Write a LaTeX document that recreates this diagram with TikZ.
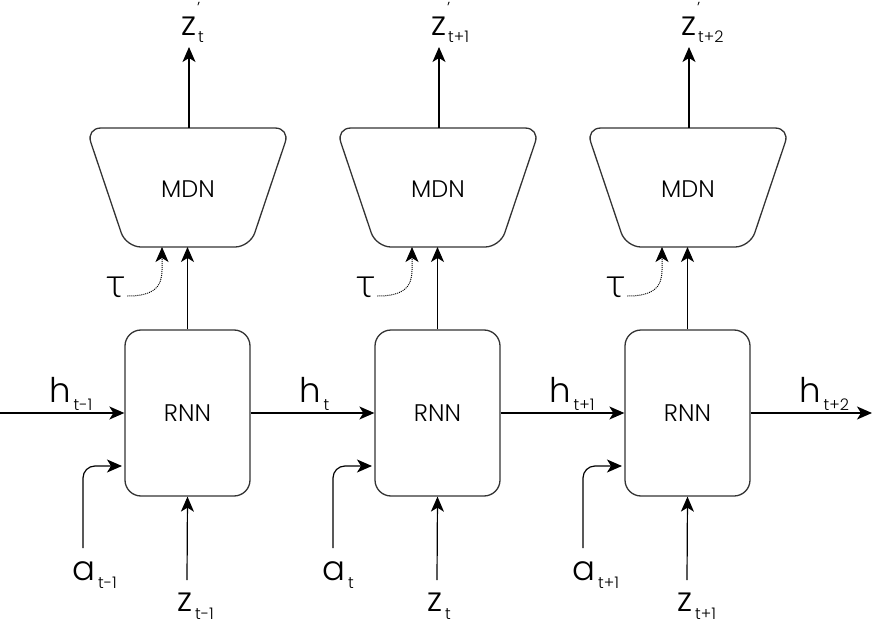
\documentclass[tikz,border=0pt]{standalone}
\usepackage{fontspec}
\setmainfont{Poppins}[UprightFont=* Light]
\newfontfamily\taufont{Lato}[UprightFont=* Light]
\usetikzlibrary{arrows.meta}
\newcommand{\mylab}[2]{#1\hspace{3pt}\raisebox{-8pt}{\fontsize{16}{18}\selectfont #2}}
\newcommand{\myout}[1]{z\rlap{\hspace{1pt}\raisebox{22pt}{\fontsize{16}{18}\selectfont '}}\hspace{2pt}\raisebox{-7pt}{\fontsize{16}{18}\selectfont #1}}
\begin{document}
\begin{tikzpicture}[x=1pt,y=-1pt,
  rnnbox/.style={draw=black!80, line width=1.3pt, rounded corners=16pt, minimum width=125pt, minimum height=166pt, inner sep=0pt, font=\fontsize{24}{28}\selectfont},
  mdnshape/.style={draw=black!80, line width=1.3pt, rounded corners=15pt},
  mdntext/.style={inner sep=0pt, font=\fontsize{24}{28}\selectfont},
  arr/.style={draw=black, line width=1.2pt, -{Stealth[length=15pt,width=13pt,inset=4pt]}},
  harr/.style={arr, line width=1.6pt},
  darr/.style={draw=black, line width=1pt, densely dotted, -{Stealth[length=15pt,width=13pt,inset=4pt,sep=0pt]}},
  lab/.style={anchor=base west, inner sep=0pt, font=\fontsize{34}{40}\selectfont},
  taulab/.style={anchor=base west, inner sep=0pt, font=\taufont\fontsize{42}{46}\selectfont}]
\useasboundingbox (0,0) rectangle (873,623);
\foreach \i/\dx/\prev/\cur/\nxt in {1/0/t-1/t/t-1, 2/250/t/t+1/t, 3/500/t+1/t+2/t+1}{
  \node[rnnbox] (rnn\i) at ({187.5+\dx},413) {RNN};
  \draw[mdnshape] ({188+\dx},128) -- ({290+\dx},128) -- ({250+\dx},247) -- ({126+\dx},247) -- ({86+\dx},128) -- cycle;
  \node[mdntext] (mdn\i) at ({188+\dx},189) {MDN};
  \coordinate (mdnb\i) at ({187.5+\dx},247);
  \coordinate (mdnt\i) at ({189+\dx},128);
  \coordinate (out\i) at ({189+\dx},47);
  \coordinate (taue\i) at ({162+\dx},247);
  \coordinate (as\i) at ({83+\dx},548);
  \coordinate (ae\i) at ({122+\dx},466);
  \coordinate (zs\i) at ({187+\dx},580);
  \node[lab] (zo\i) at ({181+\dx},36) {\myout{\cur}};
  \node[taulab] (tau\i) at ({106+\dx},297) {τ};
  \node[lab] (al\i) at ({72+\dx},580) {\mylab{a}{\nxt}};
  \node[lab] (zl\i) at ({177+\dx},611) {\mylab{z}{\nxt}};
  \node[lab] (hl\i) at ({49+\dx},402) {\mylab{h}{\prev}};
  \draw[arr] (rnn\i.north) -- (mdnb\i);
  \draw[arr] (mdnt\i) -- (out\i);
  \draw[darr] (tau\i.base east) ++(2,-1) coordinate (taus\i) .. controls +(38,0) and +(0,30) .. (taue\i);
  \draw[arr, rounded corners=12pt] (as\i) |- (ae\i);
  \draw[arr] (zs\i) -- (rnn\i.south);
}
\node[lab] (hl4) at (799,402) {\mylab{h}{t+2}};
\coordinate (hin) at (0,413);
\coordinate (hout) at (872,413);
\draw[harr] (hin) -- (rnn1.west);
\draw[arr] (rnn1.east) -- (rnn2.west);
\draw[arr] (rnn2.east) -- (rnn3.west);
\draw[harr] (rnn3.east) -- (hout);
\end{tikzpicture}
\end{document}
